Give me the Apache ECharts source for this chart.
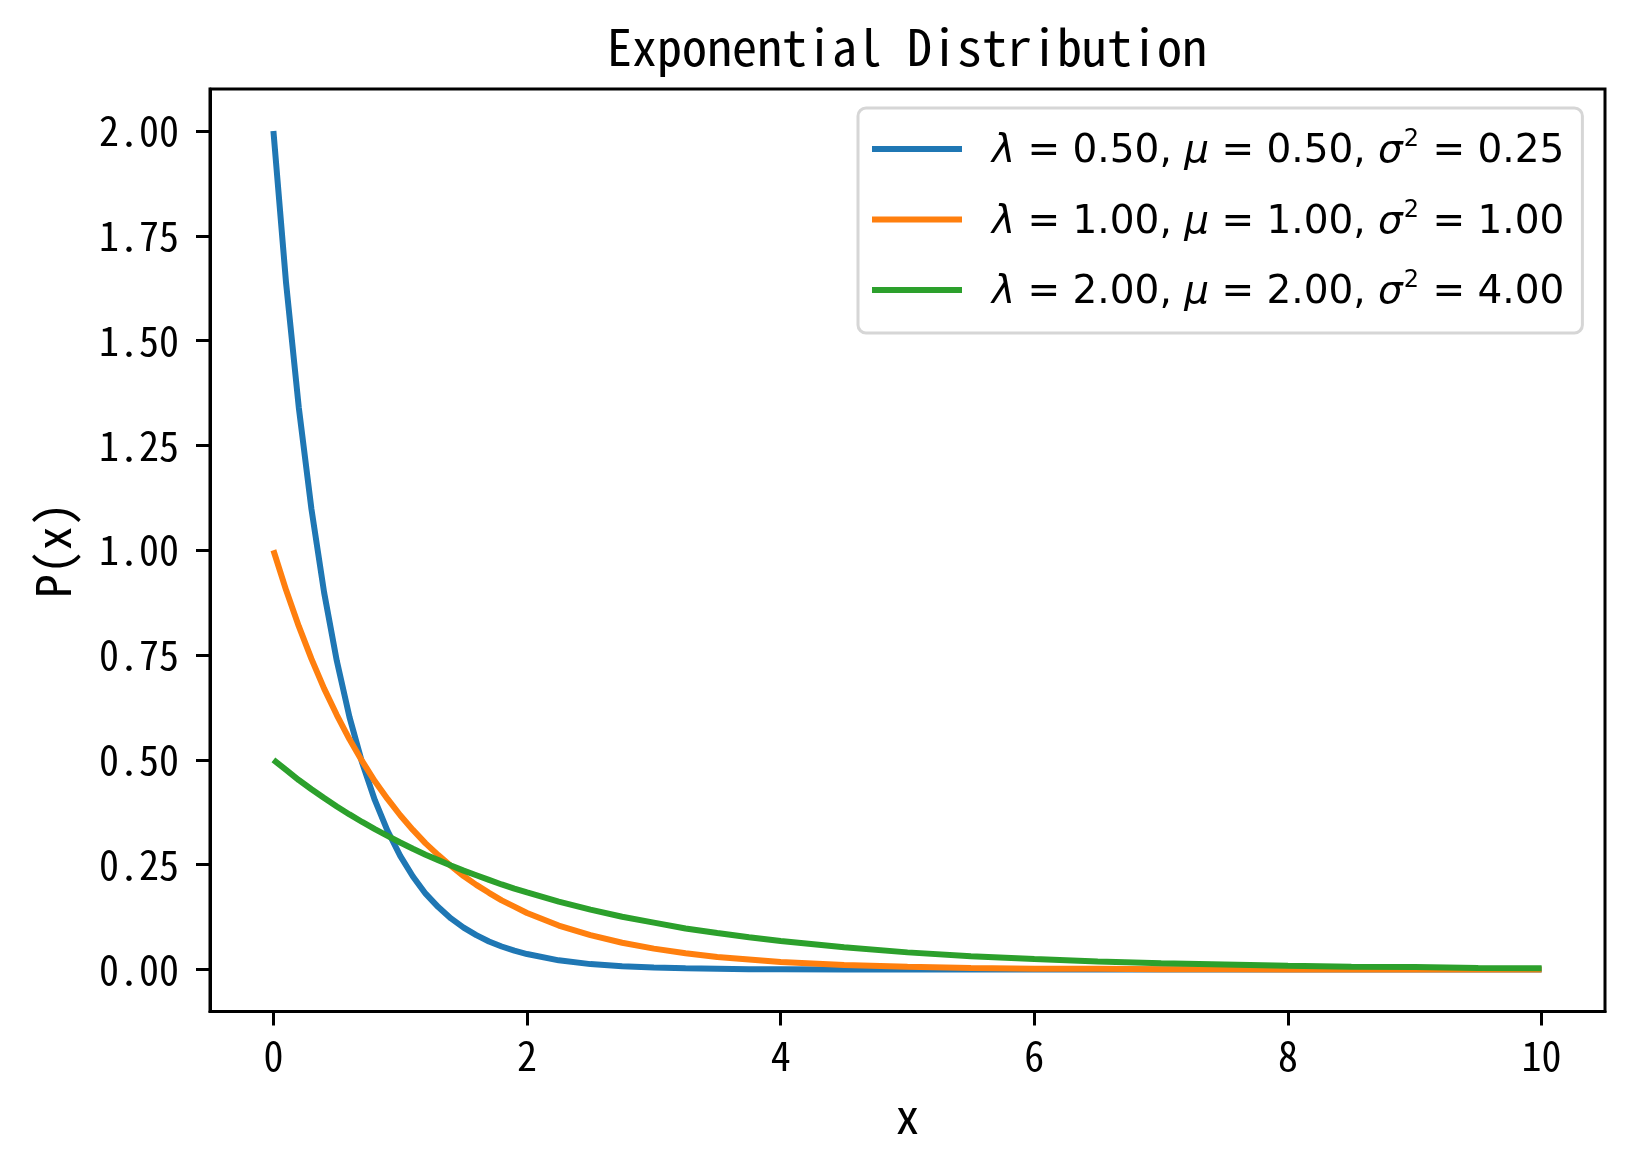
<!DOCTYPE html>
<html>
<head>
<meta charset="utf-8">
<script src="https://cdn.jsdelivr.net/npm/echarts@6/dist/echarts.min.js"></script>
<style>html,body{margin:0;padding:0;background:#fff}#c{width:1634px;height:1170px}</style>
</head>
<body>
<div id="c"></div>
<script>
// x sample positions
const xs = [0,0.1,0.2,0.3,0.4,0.5,0.6,0.7,0.8,0.9,1.0,1.1,1.2,1.3,1.4,1.5,1.6,1.7,1.8,1.9,2.0,
  2.25,2.5,2.75,3.0,3.25,3.5,3.75,4.0,4.5,5.0,5.5,6.0,6.5,7.0,7.5,8.0,8.5,9.0,9.5,10.0];
// P(x) values
const blueVals = [2.000,1.637,1.341,1.098,0.899,0.736,0.602,0.493,0.404,0.331,0.271,0.222,0.181,0.149,0.122,0.100,0.082,0.067,0.055,0.045,0.037,
  0.022,0.013,0.008,0.005,0.003,0.002,0.001,0.001,0.000,0.000,0.000,0.000,0.000,0.000,0.000,0.000,0.000,0.000,0.000,0.000];
const orangeVals = [1.000,0.905,0.819,0.741,0.670,0.607,0.549,0.497,0.449,0.407,0.368,0.333,0.301,0.273,0.247,0.223,0.202,0.183,0.165,0.150,0.135,
  0.105,0.082,0.064,0.050,0.039,0.030,0.024,0.018,0.011,0.007,0.004,0.002,0.002,0.001,0.001,0.000,0.000,0.000,0.000,0.000];
const greenVals = [0.500,0.476,0.452,0.430,0.409,0.389,0.370,0.352,0.335,0.319,0.303,0.288,0.274,0.261,0.248,0.236,0.225,0.214,0.203,0.193,0.184,
  0.162,0.143,0.126,0.112,0.098,0.087,0.077,0.068,0.053,0.041,0.032,0.025,0.019,0.015,0.012,0.009,0.007,0.006,0.004,0.003];
const lambdas = ['0.50','1.00','2.00'];
const mus = ['0.50','1.00','2.00'];
const variances = ['0.25','1.00','4.00'];
const xTicks = [0,2,4,6,8,10];
const yTicks = [0,0.25,0.5,0.75,1.0,1.25,1.5,1.75,2.0];
const colors = ['#1f77b4','#ff7f0e','#2ca02c'];
const titleText = 'Exponential Distribution';

const monoFont = "'Noto Sans Mono CJK SC','Noto Sans CJK SC','DejaVu Sans Mono',monospace";
const allVals = [blueVals, orangeVals, greenVals];
const names = lambdas.map((l,i)=>'λ=' + l + ', μ=' + mus[i] + ', σ²=' + variances[i]);

const chart = echarts.init(document.getElementById('c'), null, {renderer:'canvas'});
chart.setOption({
  animation:false,
  backgroundColor:'#fff',
  title:{
    text:titleText, left:902, top:17, textAlign:'center',
    textStyle:{fontFamily:monoFont, fontSize:50, fontWeight:'normal', color:'#000'}
  },
  grid:{left:210, right:29, top:89, bottom:158.5, show:true, borderColor:'#000', borderWidth:3, containLabel:false},
  legend:{
    orient:'vertical', left:858, top:108,
    padding:[18,18,16,14], itemGap:20.5,
    itemWidth:90, itemHeight:6, icon:'rect',
    borderColor:'#d6d6d6', borderWidth:3, borderRadius:8, backgroundColor:'rgba(255,255,255,0.8)',
    data:names,
    formatter:function(name){
      const i = names.indexOf(name);
      return '{i|λ} = ' + lambdas[i] + ', {i|μ} = ' + mus[i] + ', {i|σ}{s|2} = ' + variances[i];
    },
    textStyle:{
      fontFamily:'DejaVu Sans', fontSize:39, color:'#000', lineHeight:40, padding:[6,0,0,25],
      rich:{
        i:{fontFamily:'DejaVu Sans', fontStyle:'italic', fontSize:39, color:'#000', lineHeight:40},
        s:{fontFamily:'DejaVu Sans', fontSize:24, color:'#000', lineHeight:16, padding:[0,1,24,1]}
      }
    }
  },
  xAxis:{
    type:'value', min:-0.5, max:10.5,
    name:'x', nameLocation:'middle', nameGap:80,
    nameTextStyle:{fontFamily:monoFont, fontSize:48, color:'#000'},
    axisLine:{show:true, onZero:false, lineStyle:{color:'#000', width:3}},
    axisTick:{show:true, length:14, lineStyle:{color:'#000', width:3}, customValues:xTicks},
    axisLabel:{margin:24, fontFamily:monoFont, fontSize:40, color:'#000', customValues:xTicks,
      formatter:v=>String(v)},
    splitLine:{show:false}
  },
  yAxis:{
    type:'value', min:-0.1, max:2.1,
    name:'P(x)', nameLocation:'middle', nameGap:133, nameRotate:90,
    nameTextStyle:{fontFamily:monoFont, fontSize:48, color:'#000'},
    axisLine:{show:true, onZero:false, lineStyle:{color:'#000', width:3}},
    axisTick:{show:true, length:14, lineStyle:{color:'#000', width:3}, customValues:yTicks},
    axisLabel:{margin:31, fontFamily:monoFont, fontSize:40, color:'#000', customValues:yTicks,
      formatter:v=>v.toFixed(2)},
    splitLine:{show:false}
  },
  series: allVals.map((vals,i)=>({
    name:names[i], type:'line', showSymbol:false, symbol:'none',
    data: xs.map((x,k)=>[x, vals[k]]),
    lineStyle:{color:colors[i], width:6},
    itemStyle:{color:colors[i]},
    clip:true, z:2+i
  }))
});
</script>
</body>
</html>
